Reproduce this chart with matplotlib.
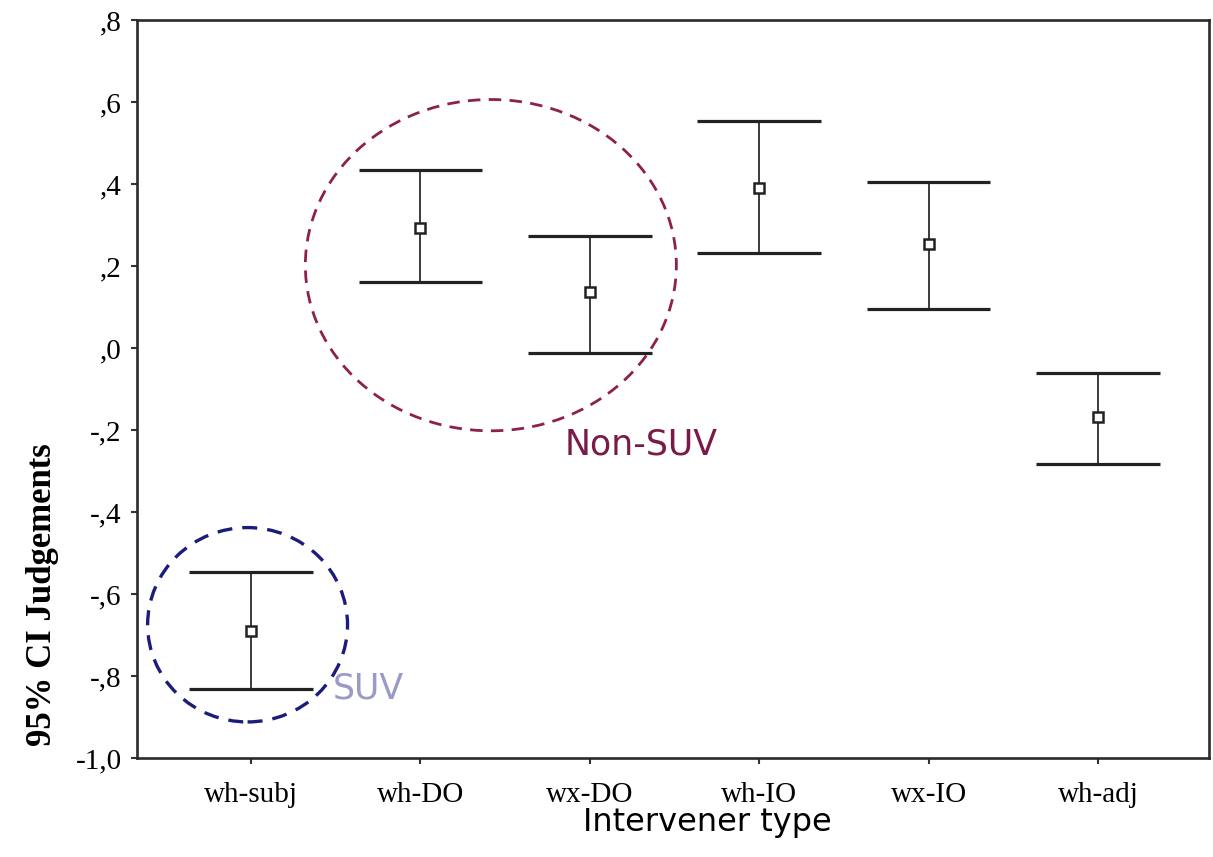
import matplotlib.pyplot as plt
from matplotlib.patches import Ellipse

# 各类干扰项的均值及95%置信区间
categories = ['wh-subj', 'wh-DO', 'wx-DO', 'wh-IO', 'wx-IO', 'wh-adj']
means = [-0.690, 0.292, 0.136, 0.390, 0.253, -0.169]
upper = [-0.546, 0.434, 0.273, 0.553, 0.404, -0.060]
lower = [-0.831, 0.160, -0.013, 0.231, 0.094, -0.282]

y_ticks = [0.8, 0.6, 0.4, 0.2, 0.0, -0.2, -0.4, -0.6, -0.8, -1.0]
y_tick_labels = [',8', ',6', ',4', ',2', ',0', '-,2', '-,4', '-,6', '-,8', '-1,0']

serif = ['Liberation Serif', 'DejaVu Serif']

fig = plt.figure(figsize=(12.13, 8.57), dpi=100)
ax = fig.add_axes([0.1129, 0.1155, 0.8838, 0.8612])

x = list(range(1, len(categories) + 1))
cap = 0.365
ax.vlines(x, lower, upper, color='#1a1a1a', linewidth=1.2, zorder=3)
ax.hlines(upper, [p - cap for p in x], [p + cap for p in x], color='#222222', linewidth=2.3, zorder=3)
ax.hlines(lower, [p - cap for p in x], [p + cap for p in x], color='#222222', linewidth=2.3, zorder=3)
ax.plot(x, means, linestyle='none', marker='s', markersize=7, markerfacecolor='white',
        markeredgecolor='#222222', markeredgewidth=1.8, zorder=4)

# 圈出 Non-SUV 与 SUV 两组
ax.add_patch(Ellipse((2.416, 0.202), 2.19, 0.808, fill=False, edgecolor='#8e1f4e',
                     linestyle=(0, (4.5, 3)), linewidth=2.0, zorder=2))
ax.add_patch(Ellipse((0.98, -0.675), 1.18, 0.474, fill=False, edgecolor='#1c1c7a',
                     linestyle=(0, (4.5, 3)), linewidth=2.4, zorder=2))
ax.text(2.85, -0.235, 'Non-SUV', color='#7a1a48', fontsize=25, ha='left', va='center')
ax.text(1.48, -0.83, 'SUV', color='#9a9ac8', fontsize=25, ha='left', va='center')

ax.set_xlim(0.327, 6.655)
ax.set_ylim(-1.0, 0.8)
ax.set_xticks(x)
ax.set_xticklabels(categories, fontsize=21, family=serif)
ax.set_yticks(y_ticks)
ax.set_yticklabels(y_tick_labels, fontsize=21, family=serif)
ax.tick_params(axis='both', direction='out', length=4, width=1.5, color='#333333', pad=7)
ax.tick_params(axis='x', pad=13)

for spine in ax.spines.values():
    spine.set_linewidth(1.9)
    spine.set_color('#2a2a2a')

fig.text(0.035, 1 - 595 / 857, '95% CI Judgements', rotation=90, ha='center', va='center',
         fontsize=25, fontweight='bold', family=serif)
fig.text(0.583, 1 - 823 / 857, 'Intervener type', ha='center', va='center', fontsize=23)

fig.savefig('out.png', dpi=100)
plt.close(fig)
